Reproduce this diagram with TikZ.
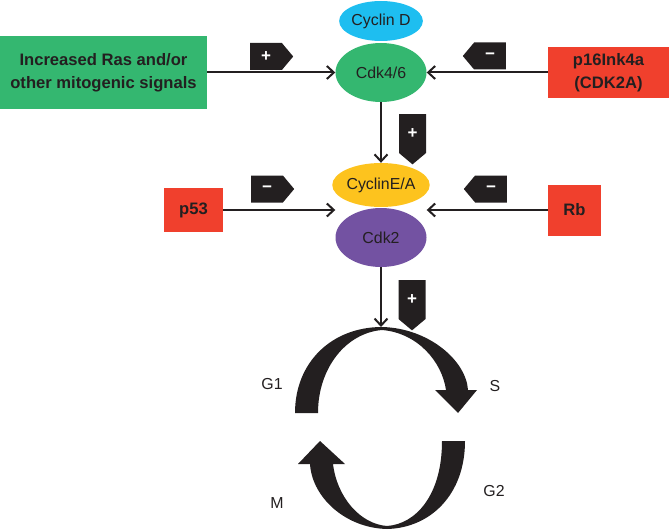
\documentclass[tikz,border=0pt]{standalone}
\usepackage{fontspec}
\setmainfont{Liberation Sans}
\usetikzlibrary{arrows.meta,shapes.geometric,shapes.symbols}

\definecolor{ink}{RGB}{35,31,32}
\definecolor{mitoGreen}{RGB}{52,183,112}
\definecolor{supRed}{RGB}{240,64,45}
\definecolor{cycDBlue}{RGB}{30,190,240}
\definecolor{cycEYellow}{RGB}{253,195,30}
\definecolor{cdkPurple}{RGB}{115,82,162}

\begin{document}
\begin{tikzpicture}[
    x=1pt, y=-1pt,
    >={Straight Barb[length=7pt,width=13pt]},
    font=\fontsize{15.9}{19}\selectfont,
    every node/.style={text=ink},
    driver/.style={
        fill=mitoGreen, rectangle, inner sep=0pt, align=center,
        font=\bfseries\fontsize{16.6}{23}\selectfont
    },
    suppressor/.style={
        fill=supRed, rectangle, inner sep=0pt, align=center,
        font=\bfseries\fontsize{16.6}{23}\selectfont
    },
    kinase/.style={
        ellipse, inner sep=0pt, minimum width=91pt, minimum height=59pt
    },
    cyclin/.style={
        ellipse, inner sep=0pt, minimum height=42pt
    },
    tagsign/.style={
        signal, fill=ink, text=white, inner sep=0pt,
        signal pointer angle=100, font=\bfseries\fontsize{17}{17}\selectfont
    },
    tagright/.style={tagsign, signal to=east, minimum width=43pt, minimum height=27pt},
    tagleft/.style={tagsign, signal to=west, minimum width=43pt, minimum height=27pt},
    tagdown/.style={tagsign, signal to=south, minimum width=27pt, minimum height=43pt},
    link/.style={draw=ink, line width=2pt, ->},
    phase/.style={fill=ink}
]
\useasboundingbox (0,0) rectangle (669,532);

\node[cyclin, fill=cycDBlue, minimum width=67pt, minimum height=40pt] (cycd) at (381,21) {Cyclin D};
\node[kinase, fill=mitoGreen] (cdk46) at (381,72.5) {Cdk4/6};

\node[driver, minimum width=207pt, minimum height=73pt] (ras) at (103.5,72.5) {Increased Ras and/or\\other mitogenic signals};
\node[suppressor, minimum width=121pt, minimum height=51pt] (p16) at (608.5,72.5) {p16Ink4a\\(CDK2A)};

\node[cyclin, fill=cycEYellow, minimum width=80pt, minimum height=44pt] (cyce) at (381,185) {CyclinE/A};
\node[kinase, fill=cdkPurple] (cdk2) at (381,237.5) {Cdk2};

\node[suppressor, minimum width=59pt, minimum height=44pt] (p53) at (193.5,210) {p53};
\node[suppressor, minimum width=53pt, minimum height=51pt] (rb) at (574.5,210) {Rb};

\node[tagright, anchor=west] (tagras) at (250,56.5) {+};
\node[tagleft, anchor=east] (tagp16) at (506,56) {−};
\node[tagdown, anchor=north] (tagcdk46) at (412.5,114) {+};
\node[tagright, anchor=west] (tagp53) at (251,189) {−};
\node[tagleft, anchor=east] (tagrb) at (507,189) {−};
\node[tagdown, anchor=north] (tagcdk2) at (412,280) {+};

\coordinate (cycletop) at (381,327);

\draw[link] (ras) -- (cdk46);
\draw[link] (p16) -- (cdk46);
\draw[link] (cdk46) -- (cyce);
\draw[link] (p53) -- (p53 -| cdk2.west);
\draw[link] (rb) -- (rb -| cdk2.east);
\draw[link] (cdk2) -- (cycletop);

\fill[phase] (295,413) .. controls (295,362) and (332,327) .. (382,327)
    .. controls (428,328) and (466,360) .. (468,390)
    -- (477,390) -- (458,413) -- (435,390) -- (446,390)
    .. controls (442,362) and (418,333) .. (382,330)
    .. controls (346,333) and (318,368) .. (318,413) -- cycle;
\fill[phase] (465,441) .. controls (465,495) and (430,528) .. (387,529)
    .. controls (345,528) and (312,497) .. (310,464)
    -- (298,464) -- (320,441) -- (345,464) -- (333,464)
    .. controls (337,497) and (360,524) .. (387,526)
    .. controls (416,524) and (442,495) .. (442,441) -- cycle;

\node (g1) at (272,384) {G1};
\node (sph) at (495,386) {S};
\node (g2) at (494,491) {G2};
\node (mph) at (277,503) {M};
\end{tikzpicture}
\end{document}
